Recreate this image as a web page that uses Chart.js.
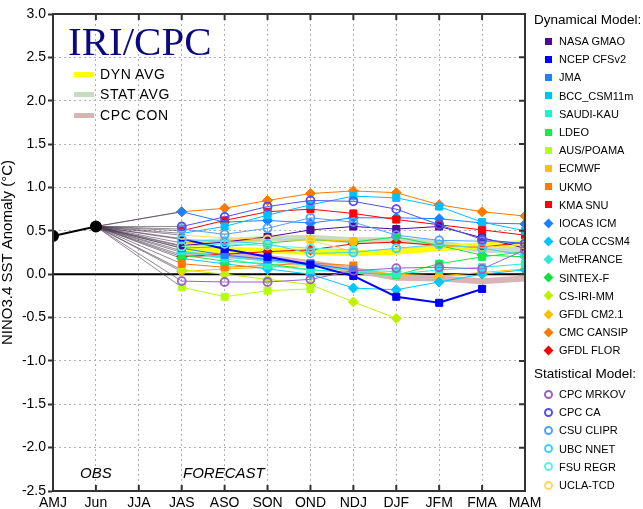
<!DOCTYPE html>
<html>
<head>
<meta charset="utf-8">
<script src="https://cdn.jsdelivr.net/npm/chart.js@4.4.0/dist/chart.umd.min.js"></script>
<style>
  body { margin: 0; background: #fff; }
  #wrap { position: relative; width: 643px; height: 509px; font-family: "Liberation Sans", Arial, sans-serif; }
  #wrap canvas { position: absolute; left: 0; top: 0; }
  .txt { position: absolute; white-space: nowrap; color: #000; height: 14px; line-height: 14px; }
  .mk { position: absolute; box-sizing: border-box; }
</style>
</head>
<body>
<div id="wrap">
  <canvas id="ensoChart" width="643" height="509"></canvas>
  <div id="overlay"></div>
</div>
<script>
// seasons on the x axis
const seasons = ['AMJ', 'Jun', 'JJA', 'JAS', 'ASO', 'SON', 'OND', 'NDJ', 'DJF', 'JFM', 'FMA', 'MAM'];
const firstLead = 3; // forecasts start at JAS
const yTicks = [3.0, 2.5, 2.0, 1.5, 1.0, 0.5, 0.0, -0.5, -1.0, -1.5, -2.0, -2.5];

// observed
const obs = [0.44, 0.55];

// dynamical models (JAS onward)
const nasaGmao  = [0.33, 0.37, 0.43, 0.51, 0.55, 0.52, 0.55, 0.42, 0.30];
const ncepCfs   = [0.41, 0.29, 0.20, 0.11, -0.02, -0.26, -0.33, -0.17];
const jma       = [0.30, 0.22, 0.17, 0.12, 0.05];
const bcc       = [0.47, 0.55, 0.68, 0.80, 0.90, 0.88, 0.78, 0.60, 0.50];
const saudiKau  = [0.27, 0.18, 0.10, 0.05, 0.02, 0.00, 0.05, 0.08, 0.12];
const ldeo      = [0.22, 0.15, 0.12, 0.05, 0.02, -0.01, 0.12, 0.20, 0.26];
const ausPoama  = [-0.15, -0.26, -0.19, -0.17];
const ecmwf     = [0.36, 0.38, 0.40, 0.40, 0.38];
const ukmo      = [0.12, 0.08, 0.10, 0.13, 0.10];
const kmaSnu    = [0.50, 0.62, 0.72, 0.75, 0.70, 0.63, 0.57, 0.51, 0.45];
const iocasIcm  = [0.72, 0.60, 0.62, 0.59, 0.65, 0.65, 0.64, 0.59, 0.58];
const colaCcsm4 = [0.18, 0.12, 0.06, 0.00, -0.16, -0.18, -0.09, 0.00, 0.05];
const metFrance = [0.25, 0.20, 0.15, 0.10, 0.05, 0.03];
const sintexF   = [0.30, 0.32, 0.36, 0.40, 0.37, 0.43, 0.33, 0.22, 0.20];
const csIriMm   = [0.05, 0.00, -0.06, -0.12, -0.32, -0.51];
const gfdlCm21  = [0.03, 0.06, 0.08, 0.10, 0.05, 0.00, -0.02, 0.02, 0.06];
const cmcCansip = [0.72, 0.76, 0.85, 0.93, 0.96, 0.94, 0.80, 0.72, 0.67];
const gfdlFlor  = [0.20, 0.23, 0.26, 0.28, 0.35, 0.37, 0.33, 0.31, 0.37];

// statistical models
const cpcMrkov  = [-0.08, -0.09, -0.09, -0.06, 0.04, 0.07, 0.08, 0.06, 0.28];
const cpcCa     = [0.55, 0.66, 0.78, 0.85, 0.84, 0.75, 0.57, 0.40, 0.35];
const csuClipr  = [0.52, 0.46, 0.53, 0.65, 0.60, 0.45, 0.39, 0.38, 0.36];
const ubcNnet   = [0.40, 0.38, 0.35, 0.24, 0.25, 0.30, 0.34, 0.30, 0.22];
const fsuRegr   = [0.32, 0.35, 0.33, 0.30, 0.28];
const uclaTcd   = [0.45, 0.42, 0.40, 0.39, 0.26, 0.29, 0.33, 0.31, 0.34];

// averages
const dynAvg = [0.29, 0.28, 0.27, 0.26, 0.24, 0.26, 0.30, 0.33, 0.36];
const statAvg = [0.35, 0.38, 0.41, 0.42, 0.39, 0.39, 0.36, 0.28, 0.28];
const cpcCon = [0.24, 0.22, 0.19, 0.13, 0.05, -0.04, -0.05, -0.08, -0.05];

const dynModels = [
  { name: 'NASA GMAO',   values: nasaGmao,  color: '#4b0a9a', shape: 'rect' },
  { name: 'NCEP CFSv2',  values: ncepCfs,   color: '#0000ff', shape: 'rect', width: 2 },
  { name: 'JMA',         values: jma,       color: '#1e82ff', shape: 'rect' },
  { name: 'BCC_CSM11m',  values: bcc,       color: '#00bfff', shape: 'rect' },
  { name: 'SAUDI-KAU',   values: saudiKau,  color: '#20f0d0', shape: 'rect' },
  { name: 'LDEO',        values: ldeo,      color: '#10f040', shape: 'rect' },
  { name: 'AUS/POAMA',   values: ausPoama,  color: '#b4ff10', shape: 'rect' },
  { name: 'ECMWF',       values: ecmwf,     color: '#ffc000', shape: 'rect' },
  { name: 'UKMO',        values: ukmo,      color: '#ff7800', shape: 'rect' },
  { name: 'KMA SNU',     values: kmaSnu,    color: '#ff0000', shape: 'rect' },
  { name: 'IOCAS ICM',   values: iocasIcm,  color: '#1e82ff', shape: 'rectRot' },
  { name: 'COLA CCSM4',  values: colaCcsm4, color: '#00c8ff', shape: 'rectRot' },
  { name: 'MetFRANCE',   values: metFrance, color: '#30e8d8', shape: 'rectRot' },
  { name: 'SINTEX-F',    values: sintexF,   color: '#10e040', shape: 'rectRot' },
  { name: 'CS-IRI-MM',   values: csIriMm,   color: '#c0f000', shape: 'rectRot' },
  { name: 'GFDL CM2.1',  values: gfdlCm21,  color: '#ffc000', shape: 'rectRot' },
  { name: 'CMC CANSIP',  values: cmcCansip, color: '#ff7800', shape: 'rectRot' },
  { name: 'GFDL FLOR',   values: gfdlFlor,  color: '#ff0000', shape: 'rectRot' }
];
const statModels = [
  { name: 'CPC MRKOV', values: cpcMrkov, color: '#9a60c8', shape: 'circle' },
  { name: 'CPC CA',    values: cpcCa,    color: '#5050f0', shape: 'circle' },
  { name: 'CSU CLIPR', values: csuClipr, color: '#50a0ff', shape: 'circle' },
  { name: 'UBC NNET',  values: ubcNnet,  color: '#40d0ff', shape: 'circle' },
  { name: 'FSU REGR',  values: fsuRegr,  color: '#60f0e0', shape: 'circle' },
  { name: 'UCLA-TCD',  values: uclaTcd,  color: '#ffd860', shape: 'circle' }
];

function lead(values) {
  const out = seasons.map(() => null);
  values.forEach((v, i) => { out[firstLead + i] = v; });
  return out;
}

const datasets = [];
statModels.concat(dynModels).forEach(m => {
  const circle = m.shape === 'circle';
  datasets.push({
    label: m.name,
    data: lead(m.values),
    borderColor: m.color,
    borderWidth: m.width || 1,
    pointStyle: m.shape,
    pointRadius: circle ? 4 : 5,
    pointBorderWidth: circle ? 1.8 : 1,
    pointBorderColor: m.color,
    pointBackgroundColor: circle ? 'rgba(0,0,0,0)' : m.color,
    clip: 0
  });
});

datasets.push({
  label: 'OBS',
  data: seasons.map((s, i) => i < obs.length ? obs[i] : null),
  borderColor: '#000', borderWidth: 2,
  pointRadius: 5, pointBackgroundColor: '#000', pointBorderColor: '#000',
  clip: 0
});

[['DYN AVG', dynAvg, '#ffff00'], ['STAT AVG', statAvg, '#c8dcc4'], ['CPC CON', cpcCon, '#d8b4b4']].forEach(a => {
  datasets.push({ label: a[0], data: lead(a[1]), borderColor: a[2], borderWidth: 6, pointRadius: 0, clip: 0 });
});

// thin connectors from the last observation to each model's first lead
statModels.concat(dynModels).forEach(m => {
  const d = seasons.map(() => null);
  d[obs.length - 1] = obs[obs.length - 1];
  d[firstLead] = m.values[0];
  datasets.push({ label: '', data: d, borderColor: 'rgba(70,55,75,0.75)', borderWidth: 0.8, pointRadius: 0, spanGaps: true, clip: 0 });
});

const framePlugin = {
  id: 'frame',
  beforeDatasetsDraw(chart) {
    const { ctx, chartArea: a, scales: { y } } = chart;
    const y0 = y.getPixelForValue(0);
    ctx.save();
    ctx.strokeStyle = '#000';
    ctx.lineWidth = 2;
    ctx.beginPath(); ctx.moveTo(a.left, y0); ctx.lineTo(a.right, y0); ctx.stroke();
    ctx.restore();
  },
  afterDraw(chart) {
    const { ctx, chartArea: a, scales: { x, y } } = chart;
    ctx.save();
    ctx.strokeStyle = '#333';
    ctx.lineWidth = 2;
    ctx.strokeRect(a.left, a.top, a.right - a.left, a.bottom - a.top);
    ctx.beginPath();
    x.ticks.forEach((t, i) => {
      const px = x.getPixelForTick(i);
      ctx.moveTo(px, a.bottom); ctx.lineTo(px, a.bottom - 6);
      ctx.moveTo(px, a.top); ctx.lineTo(px, a.top + 6);
    });
    y.ticks.forEach(t => {
      const py = y.getPixelForValue(t.value);
      ctx.moveTo(a.right, py); ctx.lineTo(a.right - 6, py);
    });
    ctx.stroke();
    ctx.restore();
  }
};

const tickFont = { family: '"Liberation Sans", Arial, sans-serif', size: 14 };

new Chart(document.getElementById('ensoChart'), {
  type: 'line',
  data: { labels: seasons, datasets: datasets },
  options: {
    responsive: false,
    animation: false,
    layout: { padding: { left: 0, top: 14, right: 118, bottom: 0 } },
    plugins: { legend: { display: false }, tooltip: { enabled: false } },
    elements: { line: { tension: 0 } },
    scales: {
      x: {
        grid: { color: '#b0b0b0', lineWidth: 1, drawTicks: false },
        border: { display: true, color: '#333', width: 2, dash: [2, 3] },
        ticks: { font: tickFont, color: '#000', padding: 4, maxRotation: 0, autoSkip: false },
        afterFit: s => { s.height = 18; }
      },
      y: {
        min: -2.5, max: 3.0,
        afterBuildTicks: s => { s.ticks = yTicks.map(v => ({ value: v })); },
        grid: { color: '#b0b0b0', lineWidth: 1, drawTicks: true, tickLength: 5, tickColor: '#333', tickWidth: 2 },
        border: { display: true, color: '#333', width: 2, dash: [2, 3] },
        ticks: { font: tickFont, color: '#000', padding: 2, callback: v => v.toFixed(1) },
        title: { display: true, text: 'NINO3.4 SST Anomaly (°C)', color: '#000', font: { family: '"Liberation Sans", Arial, sans-serif', size: 15, lineHeight: 1 }, padding: 0 },
        afterFit: s => { s.width = 53; }
      }
    }
  },
  plugins: [framePlugin]
});

// annotations and legends
const overlay = document.getElementById('overlay');
function addText(text, left, cy, css) {
  const d = document.createElement('div');
  d.className = 'txt';
  d.textContent = text;
  d.style.left = left + 'px';
  d.style.top = (cy - 7) + 'px';
  if (css) Object.assign(d.style, css);
  overlay.appendChild(d);
  return d;
}
function addMarker(shape, color, cx, cy) {
  const m = document.createElement('div');
  m.className = 'mk';
  if (shape === 'circle') {
    Object.assign(m.style, { width: '9px', height: '9px', left: (cx - 4.5) + 'px', top: (cy - 4.5) + 'px', border: '2px solid ' + color, borderRadius: '50%' });
  } else if (shape === 'rectRot') {
    Object.assign(m.style, { width: '7px', height: '7px', left: (cx - 3.5) + 'px', top: (cy - 3.5) + 'px', background: color, transform: 'rotate(45deg)' });
  } else {
    Object.assign(m.style, { width: '7px', height: '7px', left: (cx - 3.5) + 'px', top: (cy - 3.5) + 'px', background: color });
  }
  overlay.appendChild(m);
}

const title = addText('IRI/CPC', 68, 0, { fontFamily: '"Liberation Serif", "Times New Roman", serif', fontSize: '41px', color: '#0a0a80', height: '41px', lineHeight: '41px', top: '21px' });

[['DYN AVG', '#ffff00', 74], ['STAT AVG', '#c8dcc4', 94], ['CPC CON', '#d8b4b4', 115]].forEach(r => {
  const sw = document.createElement('div');
  sw.className = 'mk';
  Object.assign(sw.style, { left: '74px', top: (r[2] - 2.5) + 'px', width: '20px', height: '5px', background: r[1] });
  overlay.appendChild(sw);
  addText(r[0], 100, r[2], { fontSize: '14px', letterSpacing: '0.6px' });
});

addText('OBS', 80, 473, { fontSize: '15px', fontStyle: 'italic' });
addText('FORECAST', 183, 473, { fontSize: '15px', fontStyle: 'italic' });

addText('Dynamical Model:', 534, 20, { fontSize: '13.5px' });
dynModels.forEach((m, i) => {
  const cy = 41 + i * 18.2;
  addMarker(m.shape, m.color, 548, cy);
  addText(m.name, 559, cy, { fontSize: '11px' });
});
addText('Statistical Model:', 534, 374, { fontSize: '13.5px' });
statModels.forEach((m, i) => {
  const cy = 394 + i * 18.2;
  addMarker(m.shape, m.color, 548, cy);
  addText(m.name, 559, cy, { fontSize: '11px' });
});
</script>
</body>
</html>
